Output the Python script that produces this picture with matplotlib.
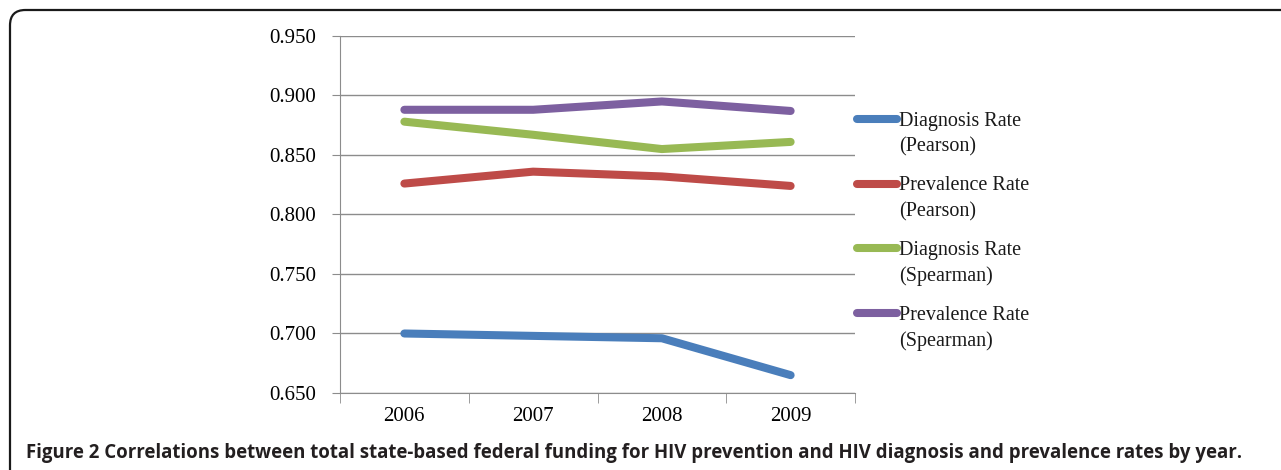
import matplotlib.pyplot as plt
from matplotlib.lines import Line2D
from matplotlib.patches import FancyBboxPatch

# data
years = ['2006', '2007', '2008', '2009']
diag_pearson = [0.700, 0.698, 0.696, 0.665]
prev_pearson = [0.826, 0.836, 0.832, 0.824]
diag_spearman = [0.878, 0.867, 0.855, 0.861]
prev_spearman = [0.888, 0.888, 0.895, 0.887]
series_names = ['Diagnosis Rate\n(Pearson)', 'Prevalence Rate\n(Pearson)',
                'Diagnosis Rate\n(Spearman)', 'Prevalence Rate\n(Spearman)']
colors = ['#4A7EBB', '#BE4B48', '#98B954', '#7D60A0']
yticks = [0.650, 0.700, 0.750, 0.800, 0.850, 0.900, 0.950]
caption = ('Figure 2 Correlations between total state-based federal funding for HIV '
           'prevention and HIV diagnosis and prevalence rates by year.')

W, H = 1281, 470
fig = plt.figure(figsize=(W / 100, H / 100), dpi=100)

# rounded frame that runs off the right and bottom edges
frame = FancyBboxPatch((10 / W, -0.2), 1.2, (H - 10) / H + 0.2,
                       boxstyle='round,pad=0,rounding_size=0.012',
                       transform=fig.transFigure, fill=False,
                       edgecolor='#1a1a1a', linewidth=1.6, mutation_aspect=W / H)
fig.add_artist(frame)

ax = fig.add_axes([340 / W, (H - 393) / H, 515 / W, 357 / H])
x = range(len(years))
data = [diag_pearson, prev_pearson, diag_spearman, prev_spearman]
for vals, c in zip(data, colors):
    ax.plot(x, vals, color=c, lw=5.8, solid_capstyle='round', solid_joinstyle='round', zorder=3)

ax.set_xlim(-0.5, len(years) - 0.5)
ax.set_ylim(0.650, 0.950)
ax.set_yticks(yticks)
ax.set_yticklabels(['%.3f' % v for v in yticks])
ax.set_xticks(x)
ax.set_xticklabels(years)
ax.set_xticks([i - 0.5 for i in range(len(years) + 1)], minor=True)
ax.grid(axis='y', color='#8c8c8c', lw=1)
for s in ['top', 'right']:
    ax.spines[s].set_visible(False)
for s in ['left', 'bottom']:
    ax.spines[s].set_color('#8c8c8c')
ax.tick_params(axis='y', length=6, color='#8c8c8c', pad=11,
               labelsize=15, labelfontfamily='Liberation Serif')
ax.tick_params(axis='x', which='major', length=0, pad=10,
               labelsize=15, labelfontfamily='Liberation Serif')
ax.tick_params(axis='x', which='minor', length=7, color='#8c8c8c')

# manual legend, handle aligned with first text line
for i, (name, c) in enumerate(zip(series_names, colors)):
    yy = (H - 119 - i * 64.5) / H
    fig.add_artist(Line2D([857 / W, 897 / W], [yy, yy], color=c, lw=5.8,
                          solid_capstyle='round', transform=fig.transFigure))
    fig.text(899 / W, yy + 7 / H, name, ha='left', va='top', fontsize=14.5,
             family='Liberation Serif', color='#1a1a1a', linespacing=1.45)

cap = fig.text(26 / W, (H - 453) / H, caption, ha='left', va='center',
               fontsize=14, family='Open Sans', weight='bold', color='#231f20')
fig.canvas.draw()
w = cap.get_window_extent().width
cap.set_fontsize(14 * 1225 / w)

fig.savefig('out.png', dpi=100)
